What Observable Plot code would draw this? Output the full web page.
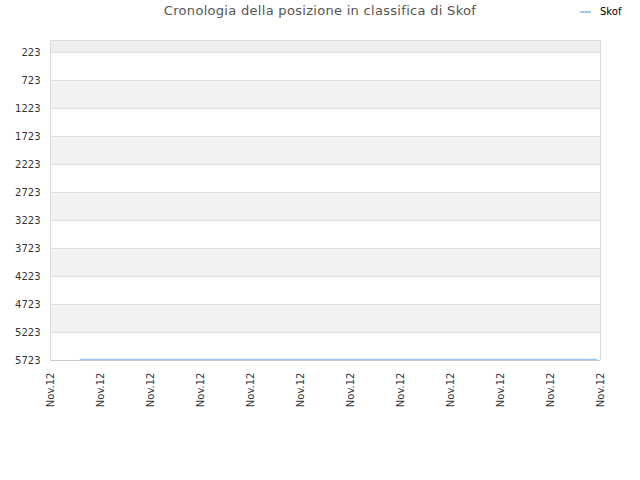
<!DOCTYPE html>
<html>
<head>
<meta charset="utf-8">
<script src="https://cdn.jsdelivr.net/npm/d3@7"></script>
<script src="https://cdn.jsdelivr.net/npm/@observablehq/plot@0.6"></script>
<style>
  body { margin: 0; background: #fff; font-family: "DejaVu Sans", sans-serif; }
  #wrap { position: relative; width: 640px; height: 480px; }
  #title { position: absolute; left: 0; width: 640px; top: 3px; text-align: center; font-size: 13px; letter-spacing: 0.3px; color: #555; }
  #legend { position: absolute; left: 580px; top: 6px; font-size: 10px; color: #000; display: flex; align-items: center; }
  #legend span.sw { display: inline-block; width: 11px; height: 2px; background: #9cc7ee; margin-right: 9px; }
  #chart { position: absolute; left: 0; top: 0; }
</style>
</head>
<body>
<div id="wrap">
  <div id="chart"></div>
  <div id="title">Cronologia della posizione in classifica di Skof</div>
  <div id="legend"><span class="sw"></span>Skof</div>
</div>
<script>
// Data
const seriesName = "Skof";
const xPositions = [0.6, 10.92];         // start and end of the recorded period (tick units)
const ranks = [5705, 5705];              // rank values (flat)
const xTicks = [0, 1, 2, 3, 4, 5, 6, 7, 8, 9, 10, 11];
const xTickLabel = "Nov.12";
const yTicks = [223, 723, 1223, 1723, 2223, 2723, 3223, 3723, 4223, 4723, 5223, 5723];
const yDomain = [9, 5723];
const topBand = [[9, 223]];
const grayBands = [[723, 1223], [1723, 2223], [2723, 3223], [3723, 4223], [4723, 5223]];

const lineData = xPositions.map((x, i) => ({x, y: ranks[i], s: seriesName}));

const chart = Plot.plot({
  width: 640,
  height: 480,
  marginLeft: 50,
  marginRight: 40,
  marginTop: 40,
  marginBottom: 120,
  style: { fontFamily: "DejaVu Sans, sans-serif", fontSize: "10px", color: "#333", background: "transparent" },
  x: { domain: [0, 11], label: null },
  y: { domain: yDomain, reverse: true, label: null },
  marks: [
    Plot.rectY(topBand, { x1: 0, x2: 11, y1: d => d[0], y2: d => d[1], fill: "#eeeeee" }),
    Plot.rectY(grayBands, { x1: 0, x2: 11, y1: d => d[0], y2: d => d[1], fill: "#f2f2f2" }),
    Plot.ruleY(yTicks, { stroke: "#e0e0e0", strokeWidth: 1 }),
    Plot.ruleX([0, 11], { stroke: "#dcdcdc" }),
    Plot.ruleY([yDomain[0]], { stroke: "#dcdcdc" }),
    Plot.ruleY([yDomain[1]], { stroke: "#cccccc" }),
    Plot.line(lineData, { x: "x", y: "y", stroke: "#9cc7ee", strokeWidth: 1.5 }),
    Plot.axisY({ ticks: yTicks, tickFormat: d3.format("d"), tickSize: 0, tickPadding: 10, fill: "#333", label: null }),
    Plot.axisX({ ticks: xTicks, tickFormat: () => xTickLabel, tickRotate: -90, tickSize: 0, tickPadding: 12, fill: "#333", label: null })
  ]
});
document.getElementById("chart").appendChild(chart);
</script>
</body>
</html>
